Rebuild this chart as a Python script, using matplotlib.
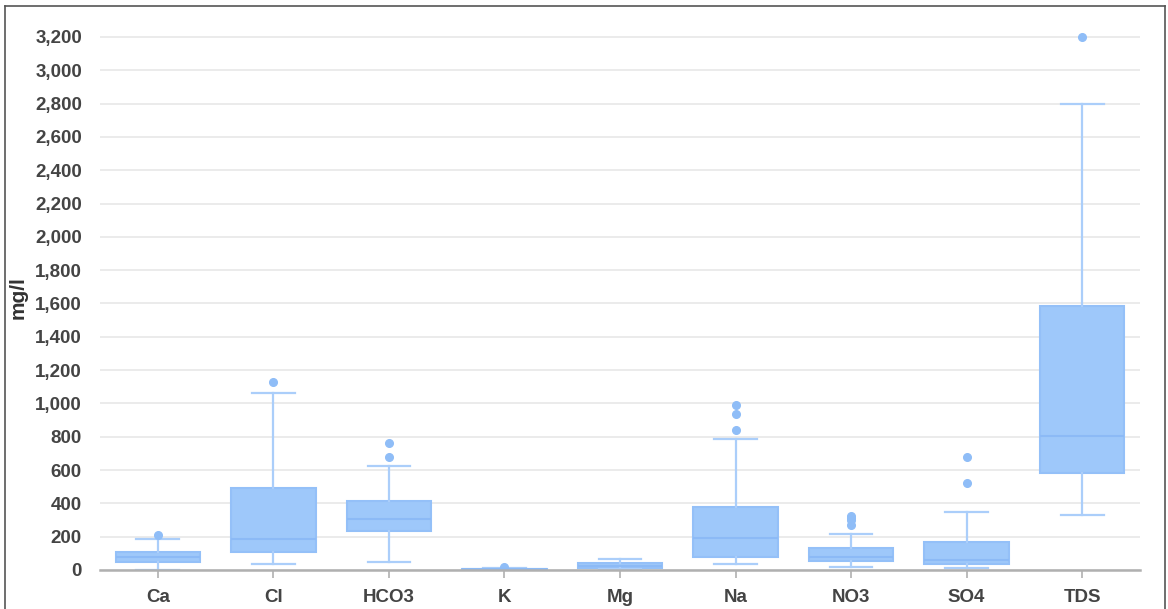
import numpy as np
import matplotlib
matplotlib.use("Agg")
import matplotlib.pyplot as plt
from matplotlib.lines import Line2D

# values (mg/l)
params = ["Ca", "Cl", "HCO3", "K", "Mg", "Na", "NO3", "SO4", "TDS"]
whislo = [2, 34, 46, 0.5, 5, 34, 18, 14, 328]
q1 = [50, 106, 236, 2, 14, 76, 52, 34, 582]
med = [80, 186, 308, 5, 26, 194, 80, 58, 802]
q3 = [110, 494, 412, 9, 40, 376, 132, 168, 1584]
whishi = [186, 1062, 622, 12, 64, 786, 214, 348, 2800]
fliers = [[208], [1126], [676, 760], [18], [], [838, 936, 990],
          [268, 300, 312, 322], [524, 678], [3200]]
yticks = list(range(0, 3201, 200))

plt.rcParams['font.family'] = ['Liberation Sans', 'DejaVu Sans']

fig = plt.figure(figsize=(11.68, 6.09), dpi=100)
ax = fig.add_axes([100 / 1168, 1 - 570 / 609, 1040 / 1168, 543 / 609])

stats = []
for i, p in enumerate(params):
    stats.append(dict(label=p, whislo=whislo[i], q1=q1[i], med=med[i],
                      q3=q3[i], whishi=whishi[i], fliers=fliers[i]))

box_col = '#9ec8fa'
edge_col = '#94c0f8'
ax.bxp(stats, positions=np.arange(len(params)), widths=0.73,
       patch_artist=True, showfliers=True,
       boxprops=dict(facecolor=box_col, edgecolor=edge_col, linewidth=1.5),
       medianprops=dict(color='#8cbaf6', linewidth=1.5),
       whiskerprops=dict(color='#abcefa', linewidth=1.6),
       capprops=dict(color='#abcefa', linewidth=1.6),
       capwidths=0.37,
       flierprops=dict(marker='o', markerfacecolor='#8fbdf7',
                       markeredgecolor='#8fbdf7', markersize=5.5))

ax.set_xlim(-0.5, len(params) - 0.5)
ax.set_ylim(0, 3260)
ax.set_yticks(yticks)
ax.set_yticklabels([f"{v:,}" for v in yticks])
ax.yaxis.grid(True, color='#e8e8e8', linewidth=1.2)
ax.set_axisbelow(True)

for s in ['top', 'right', 'left']:
    ax.spines[s].set_visible(False)
ax.spines['bottom'].set_color('#b0b0b0')
ax.spines['bottom'].set_linewidth(1.8)

ax.tick_params(axis='y', length=0, pad=13, labelsize=13.5, labelcolor='#444444')
ax.tick_params(axis='x', length=6, width=1.2, color='#b0b0b0', pad=8,
               labelsize=13.5, labelcolor='#444444')
for lab in ax.get_yticklabels() + ax.get_xticklabels():
    lab.set_fontweight('bold')

fig.text(18 / 1168, 1 - 298 / 609, "mg/l", rotation=90, ha='center', va='center',
         fontsize=15, fontweight='bold', color='#333333')

# thin frame round the picture, as in the screenshot
for xs, ys in [([5 / 1168, 5 / 1168], [0, 1 - 6 / 609]),
               ([5 / 1168, 1165 / 1168], [1 - 6 / 609, 1 - 6 / 609]),
               ([1165 / 1168, 1165 / 1168], [0, 1 - 6 / 609])]:
    fig.add_artist(Line2D(xs, ys, transform=fig.transFigure, color='#555555', linewidth=1.2))

fig.savefig("out.png", dpi=100)
